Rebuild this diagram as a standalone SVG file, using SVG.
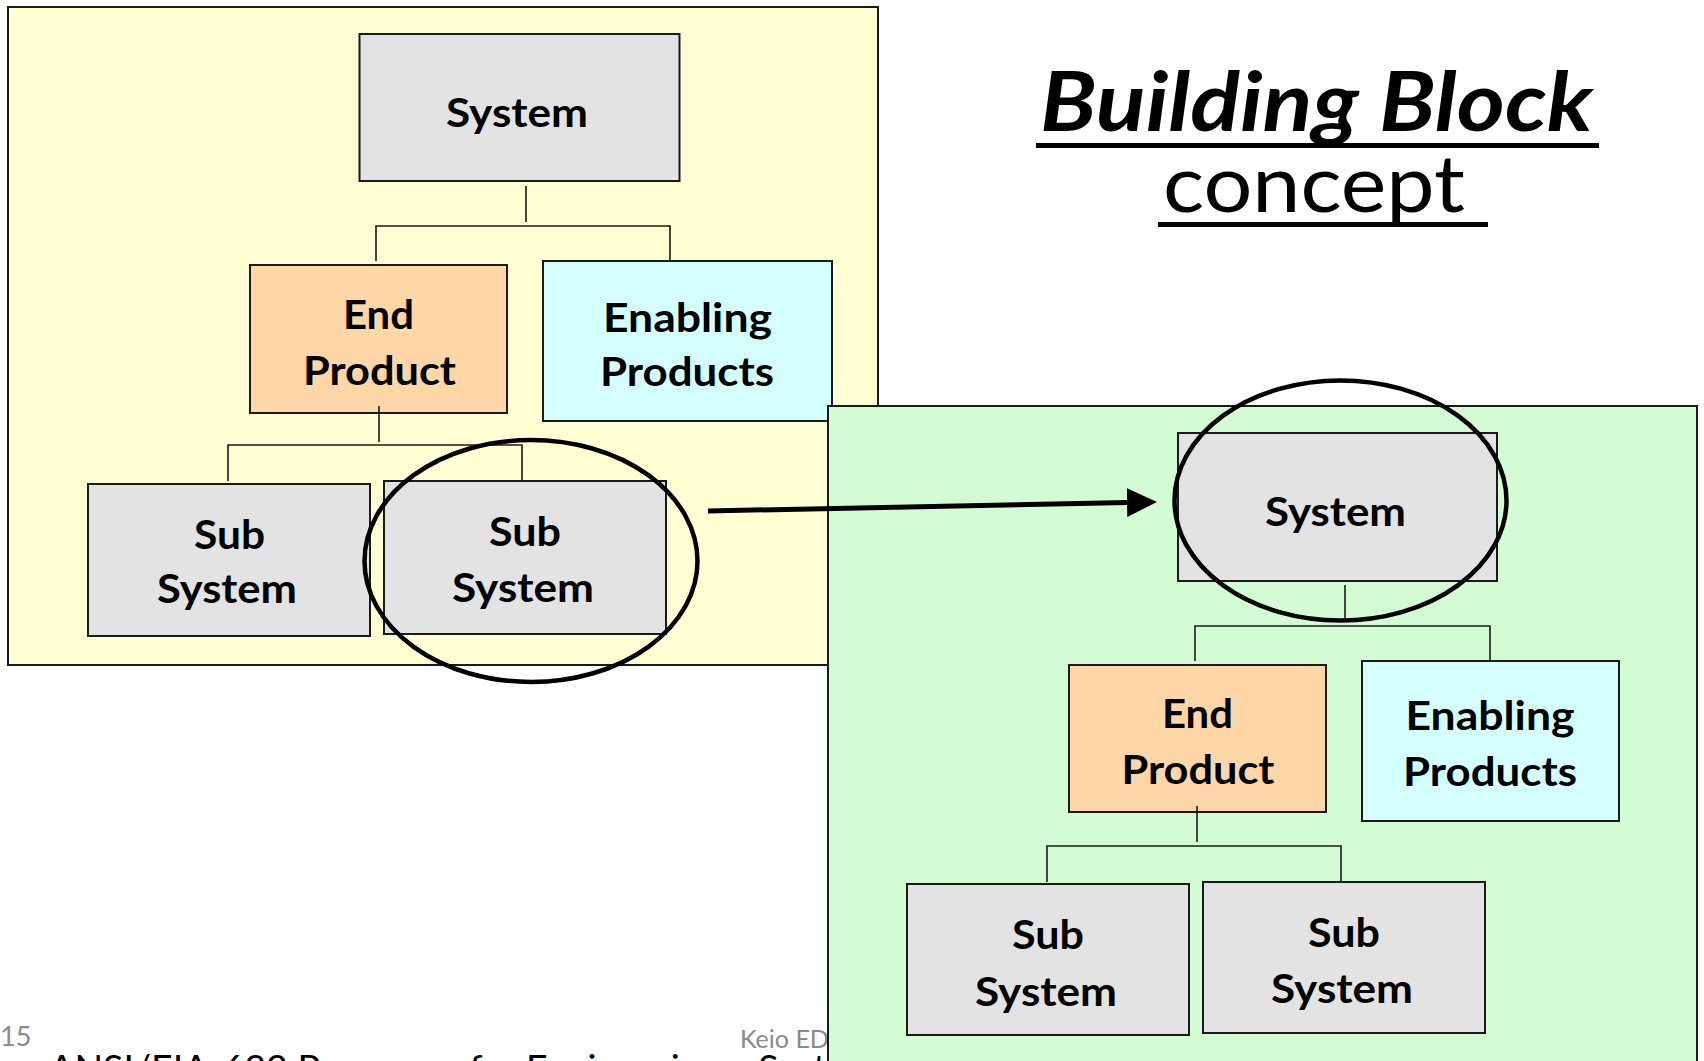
<svg xmlns="http://www.w3.org/2000/svg" width="1704" height="1061" viewBox="0 0 1704 1061">
  <style>
    .panel { stroke: #1a1a1a; stroke-width: 2; }
    .panel-y { fill: #FFFFD3; }
    .panel-g { fill: #D4FCD4; }
    .box { stroke: #1a1a1a; stroke-width: 2; }
    .gray { fill: #E3E3E3; }
    .orange { fill: #FFD6A8; }
    .cyan { fill: #D5FFFF; }
    .lbl { font-family: Lato, "Liberation Sans", sans-serif; font-weight: 700; font-size: 41px; text-anchor: middle; fill: #000; }
    .conn { fill: none; stroke: #1a1a1a; stroke-width: 1.6; }
    .ring { fill: none; stroke: #000; stroke-width: 4.5; }
    .arrow { fill: none; stroke: #000; stroke-width: 5; marker-end: url(#head); }
    .foot { font-family: Lato, "Liberation Sans", sans-serif; fill: #8a8a8a; }
    .title { font-family: Lato, "Liberation Sans", sans-serif; fill: #000; }
    .uline { stroke: #000; stroke-width: 5; }
  </style>
  <defs>
    <marker id="head" markerUnits="userSpaceOnUse" markerWidth="32" markerHeight="32" refX="1" refY="14.5" orient="auto">
      <path d="M0,0 L30,14.5 L0,29 Z" fill="#000"/>
    </marker>
  </defs>

  <rect width="1704" height="1061" fill="#fff"/>

  <!-- title -->
  <g id="title">
    <text class="title" x="1040" y="131" font-size="82" font-weight="700" font-style="italic" textLength="553" lengthAdjust="spacingAndGlyphs">Building Block</text>
    <line class="uline" x1="1036" y1="145.5" x2="1599" y2="145.5"/>
    <text class="title" x="1163" y="212" font-size="80" textLength="302" lengthAdjust="spacingAndGlyphs">concept</text>
    <line class="uline" x1="1158" y1="224.5" x2="1488" y2="224.5"/>
  </g>

  <!-- footer -->
  <g id="footer">
    <text class="foot" x="0" y="1046" font-size="27">15</text>
    <text class="foot" x="740" y="1048" font-size="25">Keio ED</text>
    <text x="49" y="1081" font-family="Lato, 'Liberation Sans', sans-serif" font-size="36" fill="#000" textLength="828" lengthAdjust="spacingAndGlyphs">ANSI/EIA-632 Processes for Engineering a System</text>
  </g>

  <!-- upper-left hierarchy -->
  <rect id="panel-a" class="panel panel-y" x="8" y="7" width="870" height="658"/>
  <g id="a-system">
    <rect class="box gray" x="359.5" y="34" width="320" height="147"/>
    <text class="lbl" x="517" y="127" textLength="142" lengthAdjust="spacingAndGlyphs">System</text>
  </g>
  <g id="a-end-product">
    <rect class="box orange" x="250" y="265" width="257" height="148"/>
    <text class="lbl" x="378.5" y="329" textLength="71" lengthAdjust="spacingAndGlyphs">End</text>
    <text class="lbl" x="379.5" y="385" textLength="153" lengthAdjust="spacingAndGlyphs">Product</text>
  </g>
  <g id="a-enabling">
    <rect class="box cyan" x="543" y="261" width="289" height="160"/>
    <text class="lbl" x="687.5" y="332" textLength="169" lengthAdjust="spacingAndGlyphs">Enabling</text>
    <text class="lbl" x="687" y="386" textLength="174" lengthAdjust="spacingAndGlyphs">Products</text>
  </g>
  <g id="a-sub-1">
    <rect class="box gray" x="88" y="484" width="282" height="152"/>
    <text class="lbl" x="229.5" y="548.5" textLength="71" lengthAdjust="spacingAndGlyphs">Sub</text>
    <text class="lbl" x="227" y="603" textLength="140" lengthAdjust="spacingAndGlyphs">System</text>
  </g>
  <g id="a-sub-2">
    <rect class="box gray" x="384" y="481" width="282" height="153"/>
    <text class="lbl" x="525" y="546" textLength="72" lengthAdjust="spacingAndGlyphs">Sub</text>
    <text class="lbl" x="523" y="602" textLength="142" lengthAdjust="spacingAndGlyphs">System</text>
  </g>

  <!-- lower-right hierarchy -->
  <rect id="panel-b" class="panel panel-g" x="828" y="406" width="869" height="670"/>
  <g id="b-system">
    <rect class="box gray" x="1178" y="433" width="319" height="148"/>
    <text class="lbl" x="1335.5" y="525.5" textLength="141" lengthAdjust="spacingAndGlyphs">System</text>
  </g>
  <g id="b-end-product">
    <rect class="box orange" x="1069" y="665" width="257" height="147"/>
    <text class="lbl" x="1197.5" y="727.5" textLength="71" lengthAdjust="spacingAndGlyphs">End</text>
    <text class="lbl" x="1198" y="784" textLength="153" lengthAdjust="spacingAndGlyphs">Product</text>
  </g>
  <g id="b-enabling">
    <rect class="box cyan" x="1362" y="661" width="257" height="160"/>
    <text class="lbl" x="1490" y="729.5" textLength="169" lengthAdjust="spacingAndGlyphs">Enabling</text>
    <text class="lbl" x="1490" y="786" textLength="174" lengthAdjust="spacingAndGlyphs">Products</text>
  </g>
  <g id="b-sub-1">
    <rect class="box gray" x="907" y="884" width="282" height="151"/>
    <text class="lbl" x="1048" y="949" textLength="72" lengthAdjust="spacingAndGlyphs">Sub</text>
    <text class="lbl" x="1046" y="1005.5" textLength="142" lengthAdjust="spacingAndGlyphs">System</text>
  </g>
  <g id="b-sub-2">
    <rect class="box gray" x="1203" y="882" width="282" height="151"/>
    <text class="lbl" x="1344" y="947" textLength="72" lengthAdjust="spacingAndGlyphs">Sub</text>
    <text class="lbl" x="1342" y="1003" textLength="142" lengthAdjust="spacingAndGlyphs">System</text>
  </g>

  <!-- tree connectors, highlight rings and the mapping arrow -->
  <g id="connectors">
    <path class="conn" d="M526,186 V222 M376,261 V226 H670 V260"/>
    <path class="conn" d="M379,406 V442 M228,481 V445 H522 V481"/>
    <path class="conn" d="M1345,585 V621 M1195,661 V626 H1490 V661"/>
    <path class="conn" d="M1197,806 V842 M1047,882 V846 H1341 V882"/>
    <ellipse class="ring" cx="531" cy="561" rx="166.5" ry="121"/>
    <ellipse class="ring" cx="1340.5" cy="500.5" rx="166" ry="120"/>
    <path class="arrow" d="M708,511 L1128,502.5"/>
  </g>
</svg>
